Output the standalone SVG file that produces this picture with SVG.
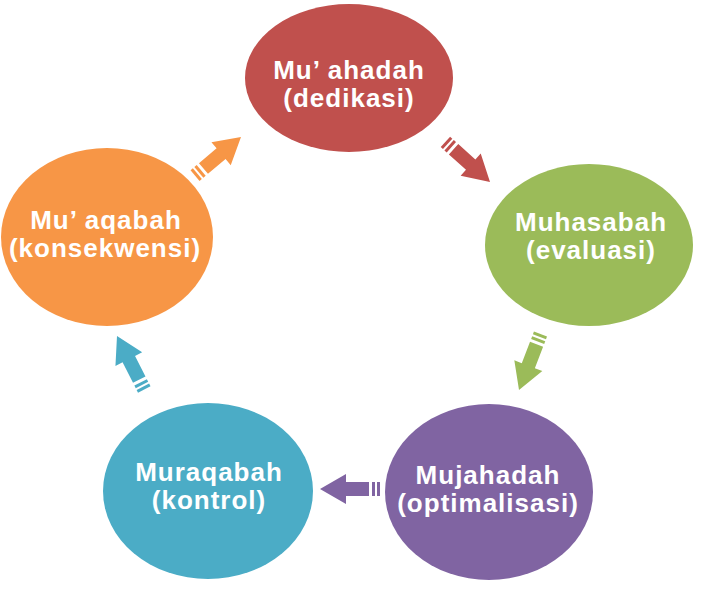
<svg xmlns="http://www.w3.org/2000/svg" width="702" height="595" viewBox="0 0 702 595">
<defs>
<style>
.lbl{font-family:"Liberation Sans",Arial,sans-serif;font-weight:bold;font-size:26px;letter-spacing:1px;fill:#fff;text-anchor:middle}
</style>
<g id="arrowShape">
<polygon points="0,0 -26,-15 -26,-7 -49,-7 -49,7 -26,7 -26,15"/>
<rect x="-55" y="-7" width="3" height="14"/>
<rect x="-60" y="-7" width="3" height="14"/>
</g>
</defs>
<rect width="702" height="595" fill="#fff"/>
<g id="connectors">
<use href="#arrowShape" fill="#C0504D" transform="translate(490,182) rotate(42)"/>
<use href="#arrowShape" fill="#9BBB59" transform="translate(519,390) rotate(111)"/>
<use href="#arrowShape" fill="#8064A2" transform="translate(320,489) rotate(180)"/>
<use href="#arrowShape" fill="#4BACC6" transform="translate(117,336) rotate(-117)"/>
<use href="#arrowShape" fill="#F79646" transform="translate(241,137) rotate(-40)"/>
</g>
<g id="node-muahadah">
<ellipse cx="349" cy="78" rx="104" ry="74" fill="#C0504D"/>
<text class="lbl" x="349" y="79">Mu’ ahadah</text>
<text class="lbl" x="349" y="107">(dedikasi)</text>
</g>
<g id="node-muhasabah">
<ellipse cx="589" cy="245" rx="104" ry="81" fill="#9BBB59"/>
<text class="lbl" x="591" y="231">Muhasabah</text>
<text class="lbl" x="591" y="259">(evaluasi)</text>
</g>
<g id="node-mujahadah">
<ellipse cx="489" cy="492" rx="104" ry="88" fill="#8064A2"/>
<text class="lbl" x="488" y="484">Mujahadah</text>
<text class="lbl" x="488" y="512">(optimalisasi)</text>
</g>
<g id="node-muraqabah">
<ellipse cx="208" cy="491" rx="105" ry="88" fill="#4BACC6"/>
<text class="lbl" x="209" y="481">Muraqabah</text>
<text class="lbl" x="209" y="509">(kontrol)</text>
</g>
<g id="node-muaqabah">
<ellipse cx="107" cy="237" rx="106" ry="89" fill="#F79646"/>
<text class="lbl" x="106" y="229">Mu’ aqabah</text>
<text class="lbl" x="105" y="257">(konsekwensi)</text>
</g>
</svg>
